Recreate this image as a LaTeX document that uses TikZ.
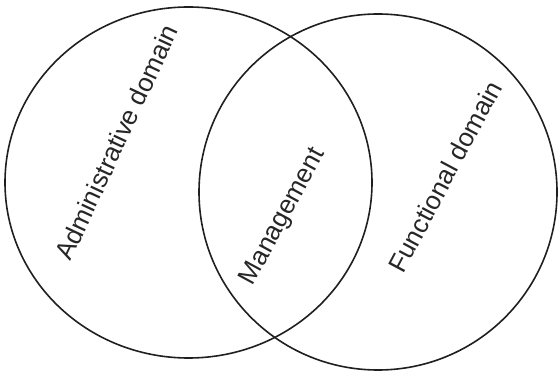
\documentclass[tikz,border=0pt]{standalone}
\usepackage{fontspec}
\setmainfont{Liberation Sans}
\usetikzlibrary{shapes.geometric}
\begin{document}
\begin{tikzpicture}[x=1pt,y=1pt,
  domainbox/.style={ellipse, draw=black!88, line width=1.6pt, inner sep=0pt},
  lbl/.style={anchor=base, inner sep=0pt, text=black!85, font=\fontsize{26}{30}\selectfont}]
\useasboundingbox (0,0) rectangle (559,372);
\node[domainbox, minimum width=367pt, minimum height=351pt] (adm) at (188.5,189.5) {};
\node[domainbox, minimum width=358pt, minimum height=356pt] (fun) at (378,180) {};
\node[lbl, rotate=65] (admt) at (125,226) {Administrative domain};
\node[lbl, rotate=61.5] (mgmt) at (289,152) {Management};
\node[lbl, rotate=62] (funt) at (453,191) {Functional domain};
\end{tikzpicture}
\end{document}
